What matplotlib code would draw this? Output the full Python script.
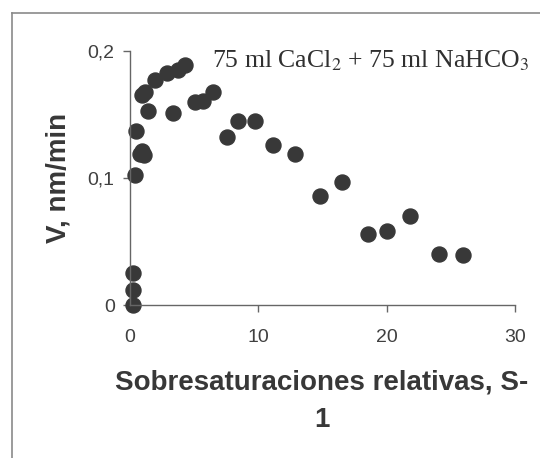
import matplotlib.pyplot as plt
from matplotlib.lines import Line2D

# relative supersaturation (S-1) and growth rate V (nm/min)
s_rel = [0.25, 0.25, 0.25, 0.4, 0.45, 0.8, 0.95, 1.1, 0.95, 1.2, 1.4,
         1.95, 2.9, 3.75, 4.3, 3.35, 5.05, 5.7, 6.45, 7.55, 8.4, 9.75,
         11.15, 12.85, 14.8, 16.5, 18.55, 20.0, 21.8, 24.1, 25.95]
v_rate = [0.0, 0.012, 0.025, 0.102, 0.137, 0.119, 0.121, 0.118, 0.165, 0.168, 0.153,
          0.177, 0.183, 0.185, 0.189, 0.151, 0.160, 0.161, 0.168, 0.132, 0.145, 0.145,
          0.126, 0.119, 0.086, 0.097, 0.056, 0.058, 0.070, 0.040, 0.039]

x_ticks = [0, 10, 20, 30]
y_ticks = [0, 0.1, 0.2]
y_ticklabels = ["0", "0,1", "0,2"]

plt.rcParams['font.family'] = ['Liberation Sans', 'DejaVu Sans']
plt.rcParams['mathtext.fontset'] = 'stix'

fig = plt.figure(figsize=(5.4, 4.58), dpi=100)
ax = fig.add_axes([130 / 540, 1 - 305 / 458, 385 / 540, 254 / 458])

ax.plot(s_rel, v_rate, 'o', color='#383838', markersize=10.8, clip_on=False)

ax.set_xlim(0, 30)
ax.set_ylim(0, 0.2)
ax.set_xticks(x_ticks)
ax.set_yticks(y_ticks)
ax.set_yticklabels(y_ticklabels)
for side in ['top', 'right']:
    ax.spines[side].set_visible(False)
for side in ['left', 'bottom']:
    ax.spines[side].set_color('#666666')
    ax.spines[side].set_linewidth(1.0)
ax.tick_params(colors='#666666', labelcolor='#404040', labelsize=14, length=5, width=1)
ax.tick_params(axis='x', pad=12)
ax.tick_params(axis='y', pad=6)

fig.text(58 / 540, 1 - 178 / 458, "V, nm/min", rotation=90, ha='center', va='center',
         fontsize=20, fontweight='bold', color='#383838')
fig.text(322 / 540, 1 - 369 / 458, "Sobresaturaciones relativas, S-\n1", ha='center', va='top',
         fontsize=20, fontweight='bold', color='#383838', linespacing=1.6)

ax.text(6.4, 0.192, r"75 ml CaCl$_2$ + 75 ml NaHCO$_3$", ha='left', va='center',
        fontsize=18.5, family='Liberation Serif', color='#303030')

# grey frame around the chart (cut at right and bottom)
fig.add_artist(Line2D([12 / 540, 12 / 540], [0, 1 - 13 / 458], transform=fig.transFigure,
                      color='#8a8a8a', linewidth=1.2))
fig.add_artist(Line2D([12 / 540, 1], [1 - 13 / 458, 1 - 13 / 458], transform=fig.transFigure,
                      color='#8a8a8a', linewidth=1.2))

fig.savefig('out.png', dpi=100)
